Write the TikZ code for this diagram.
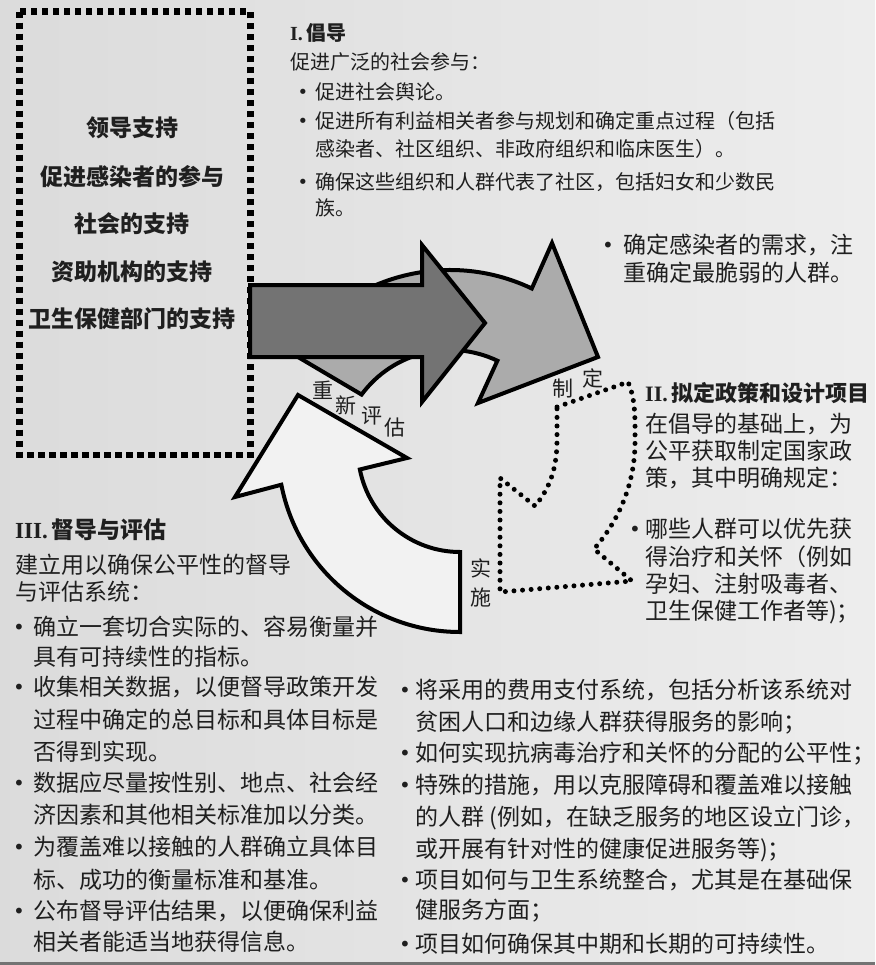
\documentclass[tikz,border=0pt]{standalone}
\usepackage{fontspec}
\setmainfont{Noto Sans CJK SC}
\newfontfamily\latserif{Liberation Serif}
\newfontfamily\bulfont{DejaVu Sans}
\usetikzlibrary{calc}
\definecolor{bgl}{gray}{0.86}
\definecolor{bgr}{gray}{0.93}
\definecolor{darkfill}{gray}{0.45}
\definecolor{midfill}{gray}{0.67}
\definecolor{lightfill}{gray}{0.95}
\definecolor{ink}{gray}{0.12}
\begin{document}
\begin{tikzpicture}[x=1pt,y=-1pt,
  btxt/.style={anchor=base west,inner sep=0pt,text=ink,font=\fontsize{23}{23}\selectfont},
  stxt/.style={anchor=base west,inner sep=0pt,text=ink,font=\fontsize{20}{20}\selectfont},
  bbul/.style={anchor=base,inner sep=0pt,text=ink,font=\bulfont\fontsize{20}{20}\selectfont},
  sbul/.style={anchor=base,inner sep=0pt,text=ink,font=\bulfont\fontsize{18}{18}\selectfont},
  boxtxt/.style={anchor=base,inner sep=0pt,text=ink,font=\fontsize{23}{23}\selectfont\bfseries},
  headtxt/.style={anchor=base west,inner sep=0pt,text=ink,font=\fontsize{23}{23}\selectfont\bfseries},
  cyc/.style={anchor=center,inner sep=0pt,text=ink,font=\fontsize{21}{21}\selectfont},
  arrowline/.style={draw=black,line width=4pt,line join=miter},
  dotline/.style={draw=black,line width=5pt,line cap=round,dash pattern=on 0pt off 8.6pt},
  boxline/.style={draw=black,line width=6.5pt,dash pattern=on 6.5pt off 4.5pt}]
% background
\shade[left color=bgl,right color=bgr] (0,0) rectangle (875,965);
\useasboundingbox (0,0) rectangle (875,965);
\draw[black!55,line width=3pt] (0,963) -- (875,963);

% left dashed box
\draw[boxline] (19.5,11.7) rectangle (250.5,455);
\foreach \yy/\ss [count=\i] in {128/{领导支持},177/{促进感染者的参与},224/{社会的支持},272/{资助机构的支持},319/{卫生保健部门的支持}}
  \node[boxtxt] (lb\i) at (132,\yy+8.7) {\ss};

% curved arrows
\coordinate (c1) at (450,460);
\coordinate (c2) at (460,450);
\draw[arrowline,fill=midfill] ($(c1)+(-146:190)$) arc[start angle=-146,end angle=-64.5,radius=190]
  -- (552,243) -- (598,357) -- (478,403) -- ($(c1)+(-64.5:110)$)
  arc[start angle=-64.5,end angle=-143.5,radius=110] -- cycle;
\draw[arrowline,fill=darkfill] (250,285) -- (422,285) -- (422,245) -- (485,323) -- (422,402) -- (422,357) -- (250,357) -- cycle;
\draw[arrowline,fill=lightfill] ($(c2)+(90:182)$) arc[start angle=90,end angle=169,radius=182]
  -- (235,497) -- (298,395) -- (407,458) -- ($(c2)+(169:102)$)
  arc[start angle=169,end angle=90,radius=102] -- cycle;
\draw[dotline] (557,407) -- (628,382) .. controls (636,400) and (635,420) .. (635,445)
  .. controls (634,490) and (615,525) .. (594,549) -- (632,581) -- (500,592) -- (500,478)
  -- (535,506) .. controls (550,488) and (557,468) .. (557,440) -- cycle;

% cycle labels
\node[cyc] (z1) at (563,389) {制};
\node[cyc] (z2) at (593,378) {定};
\node[cyc] (r1) at (323,390) {重};
\node[cyc] (r2) at (346,405) {新};
\node[cyc] (r3) at (372,416) {评};
\node[cyc] (r4) at (395,428) {估};
\node[cyc] (s1) at (481,568) {实};
\node[cyc] (s2) at (481,598) {施};

% I. advocacy block
\node[stxt,font=\fontsize{20}{20}\selectfont\bfseries] (h1) at (290,33+7.6) {{\latserif I.}\,倡导};
\node[stxt] (p1) at (290,62+7.6) {促进广泛的社会参与：};
\foreach \yy/\ss [count=\i] in {92/{促进社会舆论。},121/{促进所有利益相关者参与规划和确定重点过程（包括},149/{感染者、社区组织、非政府组织和临床医生）。},182/{确保这些组织和人群代表了社区，包括妇女和少数民},208/{族。}}
  \node[stxt] (ta\i) at (315,\yy+7.6) {\ss};
\foreach \yy [count=\i] in {92,121,182}
  \node[sbul] (tb\i) at (303,\yy+6.5) {•};

% right top
\node[bbul] (rb1) at (608,245+7.5) {•};
\node[btxt] (rt1) at (623,245+8.7) {确定感染者的需求，注};
\node[btxt] (rt2) at (623,273+8.7) {重确定最脆弱的人群。};

% II block
\node[headtxt,font=\fontsize{22}{22}\selectfont\bfseries] (h2) at (645,393+8.3) {{\latserif II.}\,拟定政策和设计项目};
\foreach \yy/\ss [count=\i] in {424/{在倡导的基础上，为},451/{公平获取制定国家政},478/{策，其中明确规定：},529/{哪些人群可以优先获},557/{得治疗和关怀（例如},584/{孕妇、注射吸毒者、},611/{卫生保健工作者等)；}}
  \node[btxt] (pb\i) at (645,\yy+8.7) {\ss};
\node[bbul] (pbb) at (635,529+7.5) {•};

% III block
\node[headtxt] (h3) at (15,530+8.7) {{\latserif III.}\,督导与评估};
\node[btxt] (m1) at (15,565+8.7) {建立用以确保公平性的督导};
\node[btxt] (m2) at (15,592+8.7) {与评估系统：};
\foreach \yy/\ss [count=\i] in {627/{确立一套切合实际的、容易衡量并},657/{具有可持续性的指标。},687/{收集相关数据，以便督导政策开发},720/{过程中确定的总目标和具体目标是},752/{否得到实现。},783/{数据应尽量按性别、地点、社会经},815/{济因素和其他相关标准加以分类。},847/{为覆盖难以接触的人群确立具体目},880/{标、成功的衡量标准和基准。},911/{公布督导评估结果，以便确保利益},942/{相关者能适当地获得信息。}}
  \node[btxt] (ml\i) at (33,\yy+8.7) {\ss};
\foreach \yy [count=\i] in {627,687,783,847,911}
  \node[bbul] (mb\i) at (19,\yy+7.5) {•};

% bottom right column
\foreach \yy/\ss [count=\i] in {690/{将采用的费用支付系统，包括分析该系统对},722/{贫困人口和边缘人群获得服务的影响；},753/{如何实现抗病毒治疗和关怀的分配的公平性；},785/{特殊的措施，用以克服障碍和覆盖难以接触},817/{的人群 (例如，在缺乏服务的地区设立门诊，},849/{或开展有针对性的健康促进服务等)；},880/{项目如何与卫生系统整合，尤其是在基础保},910/{健服务方面；},944/{项目如何确保其中期和长期的可持续性。}}
  \node[btxt] (rl\i) at (415,\yy+8.7) {\ss};
\foreach \yy [count=\i] in {690,753,785,880,944}
  \node[bbul] (rbb\i) at (405,\yy+7.5) {•};
\end{tikzpicture}
\end{document}
